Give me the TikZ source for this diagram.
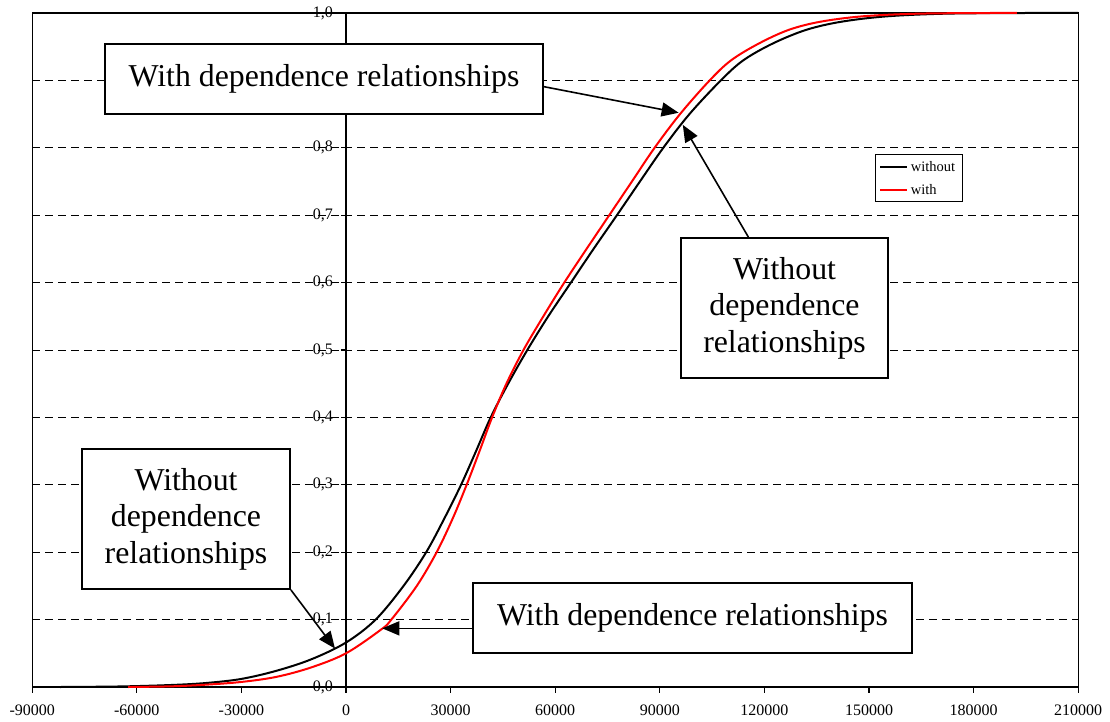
\documentclass[tikz,border=0pt]{standalone}
\usepackage{fontspec}
\setmainfont{Liberation Serif}
\usetikzlibrary{arrows.meta}

\begin{document}
\begin{tikzpicture}[x=1pt, y=1pt,
    note/.style={draw, fill=white, line width=1.8pt, align=center, inner sep=0pt,
      font=\fontsize{31.8}{36.5}\selectfont},
    pointer/.style={line width=1.6pt, -{Triangle[length=17pt, width=14pt]}},
    gridline/.style={dash pattern=on 8pt off 5pt, line width=0.9pt},
    ticklabel/.style={font=\fontsize{16}{19}\selectfont},
    without/.style={black, line width=2pt},
    with/.style={red, line width=2pt}]

\useasboundingbox (0,0) rectangle (1110,721);

% Plot area in data units (x in thousands)
\begin{scope}[shift={(346,34)}, x=3.4867pt, y=674pt]

% Gridlines
\foreach \v in {1,...,10} {
    \draw[gridline] (-90,\v/10) -- (210,\v/10);
}

% Frame and axes
\draw[line width=1.2pt] (-90,0) rectangle (210,1);
\draw[line width=1.2pt] (0,0) -- (0,1);

% x ticks and labels
\foreach \t/\lab in {-90/-90000,-60/-60000,-30/-30000,0/0,30/30000,60/60000,
                     90/90000,120/120000,150/150000,180/180000,210/210000} {
    \draw[line width=1.2pt] (\t,0) -- ++(0,-6pt);
    \node[ticklabel] (xl\t) at (\t,-0.035) {\lab};
}

% y ticks and labels (0,9 is hidden by a box)
\foreach \v in {0,...,8} {
    \draw[line width=1.2pt] (0,\v/10) -- ++(-5pt,0);
    \node[ticklabel, anchor=east, inner sep=0pt] (yl\v) at (-3.7,\v/10) {0,\v};
}
\draw[line width=1.2pt] (0,1) -- ++(-5pt,0);
\node[ticklabel, anchor=east, inner sep=0pt] (yl10) at (-3.7,1) {1,0};

% Curve without dependence relationships
\draw[without] plot[smooth, tension=0.55] coordinates {
    (-82,0) (-65,0.0008) (-50,0.003) (-40,0.006) (-30,0.012) (-20,0.024)
    (-10,0.041) (0,0.066) (8.5,0.1) (16.5,0.15) (23,0.2) (28.2,0.25) (33,0.3)
    (37.3,0.35) (41.5,0.4) (46.5,0.45) (52,0.5) (58,0.55) (64.5,0.6) (71,0.65)
    (77.7,0.7) (84.3,0.75) (91,0.8) (98.5,0.85) (107.5,0.9) (114,0.93)
    (122.5,0.955) (132,0.975) (142,0.987) (155,0.995) (172,0.999) (195,1) (210,1)};

% Curve with dependence relationships
\draw[with] plot[smooth, tension=0.55] coordinates {
    (-62.5,0) (-50,0.001) (-40,0.0035) (-30,0.0075) (-20,0.015) (-10,0.029)
    (0,0.05) (10,0.085) (13,0.1) (20.3,0.15) (26,0.2) (30.6,0.25) (34.6,0.3)
    (38.3,0.35) (41.9,0.4) (46,0.45) (50.9,0.5) (56.6,0.55) (62.6,0.6) (69,0.65)
    (75.5,0.7) (82,0.75) (88.5,0.8) (95.8,0.85) (104.3,0.9) (110.5,0.93)
    (118.5,0.955) (127,0.975) (136,0.987) (148,0.995) (164,0.999) (185,1) (192.4,1)};

% Arrow targets on the curves
\coordinate (redtop) at (95.4,0.852);
\coordinate (blacktop) at (96.6,0.834);
\coordinate (blacklow) at (-3.15,0.057);
\coordinate (redlow) at (10.4,0.087);
\end{scope}

% Text boxes
\node[note, minimum width=438pt, minimum height=70pt] (withup) at (324,642)
    {With dependence relationships};
\node[note, minimum width=207pt, minimum height=140pt] (withoutright) at (784.5,413)
    {Without\\dependence\\relationships};
\node[note, minimum width=208pt, minimum height=140pt] (withoutleft) at (186,202)
    {Without\\dependence\\relationships};
\node[note, minimum width=439pt, minimum height=70pt] (withdown) at (692.5,103)
    {With dependence relationships};

% Arrows
\draw[pointer] (withup.-2.9) -- (redtop);
\draw[pointer] (withoutright.117.5) -- (blacktop);
\draw[pointer] (withoutleft.south east) -- (blacklow);
\draw[pointer] (withdown.west |- redlow) -- (redlow);

% Legend
\node[draw, fill=white, line width=1pt, minimum width=87pt, minimum height=47pt] (legend) at (918.5,542.5) {};
\draw[without, line width=1.8pt] (880,554) -- (907,554) node[right, text=black, font=\fontsize{14.5}{16}\selectfont, inner sep=3pt] (lwo) {without};
\draw[with, line width=1.8pt] (880,531) -- (907,531) node[right, text=black, font=\fontsize{14.5}{16}\selectfont, inner sep=3pt] (lw) {with};

\end{tikzpicture}
\end{document}
